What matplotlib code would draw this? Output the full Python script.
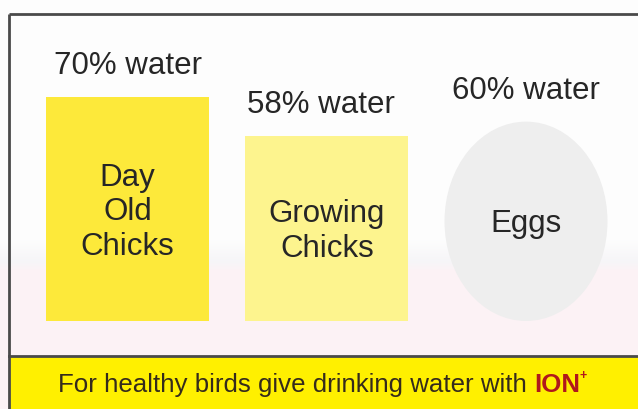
import numpy as np
import matplotlib
matplotlib.use("Agg")
import matplotlib.pyplot as plt
from matplotlib.patches import Ellipse, Rectangle

plt.rcParams['font.family'] = ['Liberation Sans', 'DejaVu Sans']

# ---- data ----
categories = ["Day\nOld\nChicks", "Growing\nChicks", "Eggs"]
water_pct = [70, 58, 60]
value_labels = ["70% water", "58% water", "60% water"]
shapes = ["bar", "bar", "egg"]
footer_text = "For healthy birds give drinking water with "
brand = "ION"

# ---- style ----
W, H = 638, 410
fig = plt.figure(figsize=(W / 100, H / 100), dpi=100)

# background gradient (full figure)
bg = fig.add_axes([0, 0, 1, 1])
bg.set_xlim(0, W)
bg.set_ylim(H, 0)
bg.axis('off')
ys = np.arange(H)
white = np.array([0.996, 0.996, 0.996])
gray = np.array([0.965, 0.962, 0.972])
pink = np.array([0.992, 0.950, 0.962])
col = np.zeros((H, 1, 3))
for i, y in enumerate(ys):
    if y < 238:
        c = white
    elif y < 262:
        t = (y - 238) / 24
        c = white * (1 - t) + gray * t
    elif y < 272:
        t = (y - 262) / 10
        c = gray * (1 - t) + pink * t
    else:
        c = pink
    col[i, 0] = c
bg.imshow(col, extent=[0, W, H, 0], aspect='auto', zorder=0)

# frame
bg.plot([9, 9], [H, 15], color='#4a4a4a', lw=2, zorder=2, solid_capstyle='butt')
bg.plot([9, W + 5], [15, 15], color='#4a4a4a', lw=2, zorder=2, solid_capstyle='butt')

# footer
bg.add_patch(Rectangle((9, 357), W, H - 357, facecolor='#fff000', edgecolor='none', zorder=1))
bg.plot([9, W + 5], [357, 357], color='#4a4a4a', lw=2, zorder=2)

# chart axes (baseline at y=322 px, 3.195 px per percent)
ppu = 3.195
base_px = 322
centers_px = [127.5, 326.5, 526.0]
step = (centers_px[2] - centers_px[0]) / 2
x0 = -centers_px[0] / step
x1 = (W - centers_px[0]) / step
ax = fig.add_axes([0, (H - base_px) / H, 1, 100 * ppu / H])
ax.set_xlim(x0, x1)
ax.set_ylim(0, 100)
ax.axis('off')
ax.patch.set_alpha(0)

bar_w = 163 / step
egg_scale = 1.04
label_dx = [0, -6, 0]
fills = ['#fde93a', '#fdf48e', '#eeeeee']
txtc = '#262626'
xs = np.arange(len(categories))
for i, (cat, v, lab, shp) in enumerate(zip(categories, water_pct, value_labels, shapes)):
    if shp == 'bar':
        ax.bar(xs[i], v, width=bar_w, color=fills[i], zorder=3)
        top = v
        mid = v / 2
    else:
        h = v * egg_scale
        ax.add_patch(Ellipse((xs[i], h / 2), bar_w * 1.0, h, facecolor=fills[i],
                             edgecolor='none', zorder=3))
        top = h
        mid = h / 2
    ax.annotate(lab, (xs[i], top), xytext=(label_dx[i], 32), textcoords='offset pixels',
                ha='center', va='center', fontsize=22.5, color=txtc, zorder=4)
    ax.annotate(cat, (xs[i], mid), xytext=(0, -2), textcoords='offset pixels',
                ha='center', va='center', fontsize=22.5, color=txtc,
                linespacing=1.2, zorder=4)

# footer text
t1 = bg.text(58, 385, footer_text, ha='left', va='center', fontsize=18.6, color='#352b1c', zorder=4)
fig.canvas.draw()
bb = t1.get_window_extent()
xion = bb.x1
t2 = fig.text(xion / W, 1 - 385 / H, brand, ha='left', va='center', fontsize=18.6,
              fontweight='bold', color='#b0181c', zorder=4)
fig.canvas.draw()
bb2 = t2.get_window_extent()
fig.text(bb2.x1 / W, 1 - 376 / H, '+', ha='left', va='center', fontsize=9,
         fontweight='bold', color='#b0181c', zorder=4)

fig.savefig('out.png', dpi=100)
